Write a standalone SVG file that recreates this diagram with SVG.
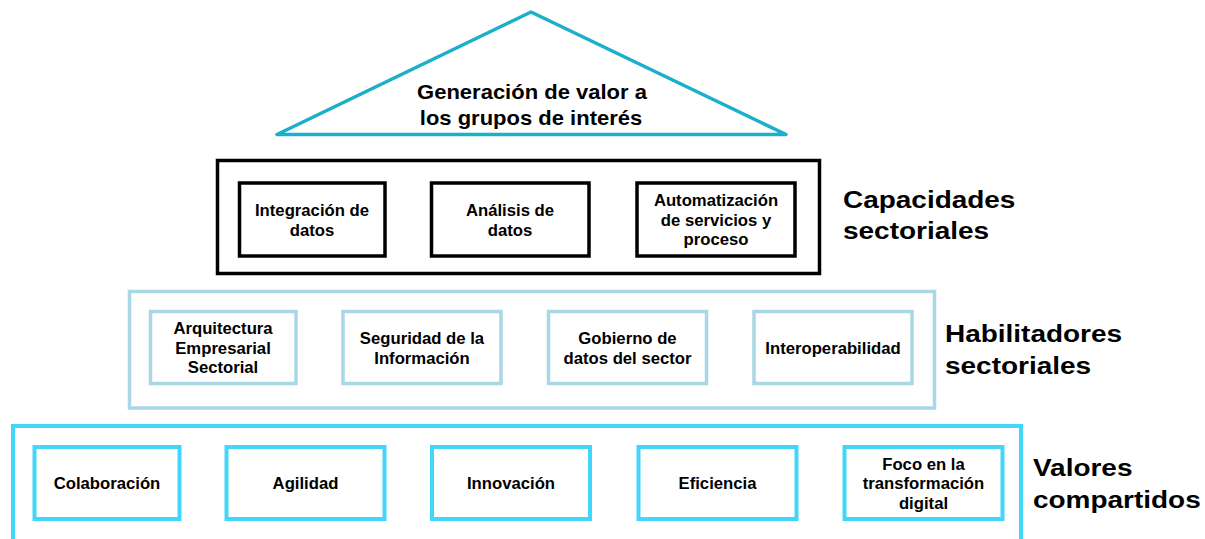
<svg xmlns="http://www.w3.org/2000/svg" width="1205" height="539" viewBox="0 0 1205 539">
<style>
  .t { font-family: "Liberation Sans", Arial, sans-serif; font-weight: bold; fill: #000; text-anchor: middle; font-size: 16.7px; }
  .big { font-size: 20px; }
  .lbl { font-family: "Liberation Sans", Arial, sans-serif; font-weight: bold; fill: #000; font-size: 23.5px; }
  .blk { fill: #fff; stroke: #000; stroke-width: 3.5; }
  .lb { fill: #fff; stroke: #A9D7E6; stroke-width: 3.5; }
  .cy { fill: #fff; stroke: #42D7FA; stroke-width: 4; }
</style>
<rect width="1205" height="539" fill="#fff"/>

<g id="roof">
  <polygon points="531,12 277,134.5 786,134.5" fill="#fff" stroke="#1AAFCB" stroke-width="3.5" stroke-linejoin="round"/>
  <text class="t big" transform="translate(532,98.5) scale(1.1,1)">Generación de valor a</text>
  <text class="t big" transform="translate(531,125) scale(1.1,1)">los grupos de interés</text>
</g>

<g id="capacidades">
  <rect class="blk" x="217.5" y="160.5" width="602" height="113"/>
  <g id="cap-integracion">
    <rect class="blk" x="239.5" y="183" width="145.5" height="73"/>
    <text class="t" x="312" y="216">Integración de</text>
    <text class="t" x="312" y="235.5">datos</text>
  </g>
  <g id="cap-analisis">
    <rect class="blk" x="431.5" y="183" width="157.5" height="73"/>
    <text class="t" x="510" y="216">Análisis de</text>
    <text class="t" x="510" y="235.5">datos</text>
  </g>
  <g id="cap-automatizacion">
    <rect class="blk" x="637" y="183" width="158" height="73"/>
    <text class="t" x="716" y="206">Automatización</text>
    <text class="t" x="716" y="225.5">de servicios y</text>
    <text class="t" x="716" y="245">proceso</text>
  </g>
  <g id="label-capacidades">
    <text class="lbl" transform="translate(843,208) scale(1.19,1)">Capacidades</text>
    <text class="lbl" transform="translate(843,239) scale(1.19,1)">sectoriales</text>
  </g>
</g>

<g id="habilitadores">
  <rect class="lb" x="129.5" y="291.5" width="805" height="116.5"/>
  <g id="hab-arquitectura">
    <rect class="lb" x="150.5" y="311.5" width="145.5" height="72"/>
    <text class="t" x="223" y="334">Arquitectura</text>
    <text class="t" x="223" y="353.5">Empresarial</text>
    <text class="t" x="223" y="373">Sectorial</text>
  </g>
  <g id="hab-seguridad">
    <rect class="lb" x="343" y="311.5" width="158" height="72"/>
    <text class="t" x="422" y="344">Seguridad de la</text>
    <text class="t" x="422" y="363.5">Información</text>
  </g>
  <g id="hab-gobierno">
    <rect class="lb" x="548.5" y="311.5" width="158" height="72"/>
    <text class="t" x="627.5" y="344">Gobierno de</text>
    <text class="t" x="627.5" y="363.5">datos del sector</text>
  </g>
  <g id="hab-interoperabilidad">
    <rect class="lb" x="754" y="311.5" width="158" height="72"/>
    <text class="t" x="833" y="354">Interoperabilidad</text>
  </g>
  <g id="label-habilitadores">
    <text class="lbl" transform="translate(945,342) scale(1.19,1)">Habilitadores</text>
    <text class="lbl" transform="translate(945,374) scale(1.19,1)">sectoriales</text>
  </g>
</g>

<g id="valores">
  <rect class="cy" x="13" y="426" width="1008" height="130"/>
  <g id="val-colaboracion">
    <rect class="cy" x="34.5" y="447" width="145" height="72"/>
    <text class="t" x="107" y="489">Colaboración</text>
  </g>
  <g id="val-agilidad">
    <rect class="cy" x="226.5" y="447" width="158" height="72"/>
    <text class="t" x="305.5" y="489">Agilidad</text>
  </g>
  <g id="val-innovacion">
    <rect class="cy" x="432" y="447" width="158" height="72"/>
    <text class="t" x="511" y="489">Innovación</text>
  </g>
  <g id="val-eficiencia">
    <rect class="cy" x="638.5" y="447" width="158" height="72"/>
    <text class="t" x="717.5" y="489">Eficiencia</text>
  </g>
  <g id="val-foco">
    <rect class="cy" x="844.5" y="447" width="158" height="72"/>
    <text class="t" x="923.5" y="469.5">Foco en la</text>
    <text class="t" x="923.5" y="489">transformación</text>
    <text class="t" x="923.5" y="508.5">digital</text>
  </g>
  <g id="label-valores">
    <text class="lbl" transform="translate(1033,476) scale(1.19,1)">Valores</text>
    <text class="lbl" transform="translate(1033,508) scale(1.19,1)">compartidos</text>
  </g>
</g>

<g id="connectors"/>
</svg>
